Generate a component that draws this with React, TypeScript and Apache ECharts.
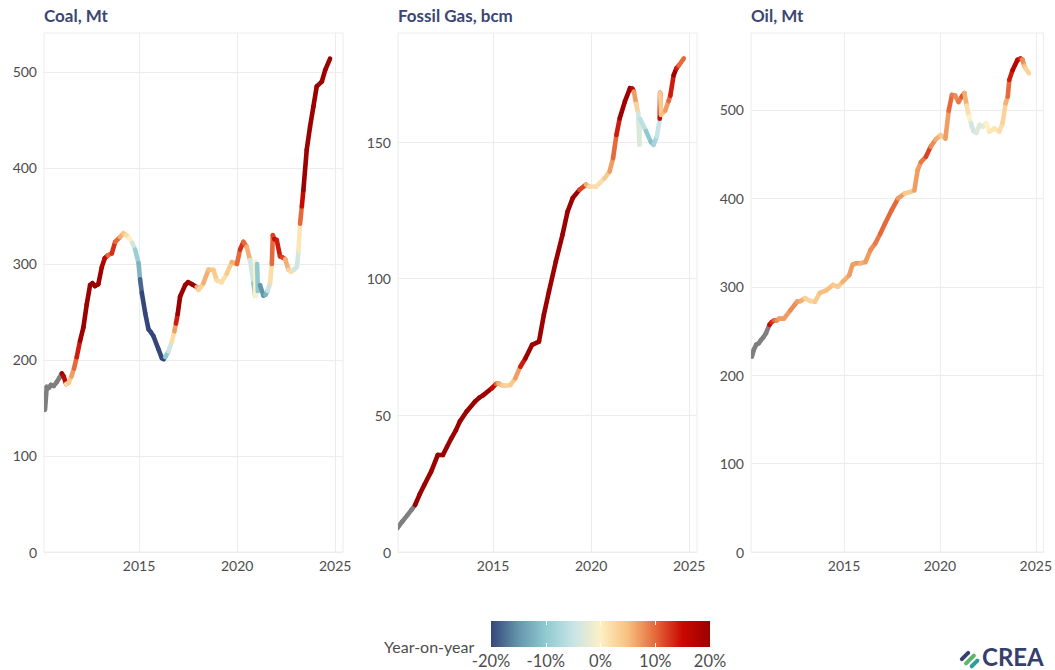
import React, { useEffect, useRef } from 'react';
import * as echarts from 'echarts';

type Pt = [number, number, number | null];

// [year, 12-month rolling value, year-on-year change (null = no prior year)]
const coalData: Pt[] = [
  [2010.2, 148, null], [2010.29, 172, null], [2010.4, 171, null], [2010.5, 174, null],
  [2010.65, 173, null], [2010.8, 177, null], [2010.95, 182, null], [2011.06, 186, null],
  [2011.15, 183, 0.2], [2011.28, 175, 0.16], [2011.4, 176, 0.02], [2011.55, 183, 0.04],
  [2011.68, 191, 0.07], [2011.82, 203, 0.1], [2011.99, 220, 0.14], [2012.16, 234, 0.22],
  [2012.33, 258, 0.25], [2012.5, 278, 0.25], [2012.62, 280, 0.25], [2012.75, 277, 0.25],
  [2012.92, 279, 0.22], [2013.1, 297, 0.2], [2013.25, 306, 0.18], [2013.4, 309, 0.16],
  [2013.61, 311, 0.1], [2013.78, 323, 0.13], [2014.03, 328, 0.1], [2014.2, 332, 0.06],
  [2014.35, 330, 0.04], [2014.5, 327, 0.02], [2014.65, 322, 0.0], [2014.8, 315, -0.04],
  [2014.97, 301, -0.09], [2015.05, 284, -0.12], [2015.14, 270, -0.18], [2015.31, 249, -0.25],
  [2015.48, 232, -0.25], [2015.6, 229, -0.25], [2015.73, 225, -0.25], [2015.99, 211, -0.25],
  [2016.16, 202, -0.25], [2016.25, 201, -0.25], [2016.33, 203, -0.22], [2016.5, 209, -0.1],
  [2016.67, 219, -0.04], [2016.8, 230, 0.02], [2016.88, 238, 0.07], [2016.97, 248, 0.14],
  [2017.09, 266, 0.22], [2017.35, 278, 0.25], [2017.5, 281, 0.25], [2017.69, 279, 0.25],
  [2017.94, 276, 0.22], [2018.03, 273, 0.06], [2018.15, 276, 0.03], [2018.28, 280, 0.03],
  [2018.54, 294, 0.06], [2018.79, 294, 0.05], [2018.96, 283, 0.04], [2019.22, 281, 0.02],
  [2019.47, 290, 0.02], [2019.73, 302, 0.04], [2019.99, 300, 0.06], [2020.15, 315, 0.1],
  [2020.32, 323, 0.13], [2020.49, 318, 0.1], [2020.66, 304, 0.06], [2020.83, 280, -0.04],
  [2020.92, 267, -0.1], [2020.95, 302, 0.0], [2021.02, 300, 0.0], [2021.06, 272, -0.1],
  [2021.17, 278, -0.1], [2021.34, 267, -0.15], [2021.45, 268, -0.15], [2021.55, 272, -0.12],
  [2021.68, 280, -0.05], [2021.77, 300, 0.02], [2021.82, 330, 0.1], [2021.9, 326, 0.12],
  [2022.02, 325, 0.15], [2022.19, 308, 0.14], [2022.3, 307, 0.13], [2022.45, 305, 0.12],
  [2022.62, 294, 0.06], [2022.75, 292, 0.03], [2022.9, 294, 0.02], [2023.05, 297, -0.04],
  [2023.13, 314, -0.04], [2023.21, 342, 0.01], [2023.3, 360, 0.1], [2023.38, 377, 0.15],
  [2023.55, 419, 0.22], [2023.72, 443, 0.25], [2023.89, 464, 0.25], [2024.06, 485, 0.25],
  [2024.32, 490, 0.25], [2024.49, 502, 0.25], [2024.74, 514, 0.25],
];

const gasData: Pt[] = [
  [2010.12, 8.7, null], [2010.35, 11, null], [2010.63, 13.5, null], [2010.85, 15.5, null],
  [2011.02, 17.2, null], [2011.25, 21, 0.3], [2011.49, 24.5, 0.3], [2011.84, 29.4, 0.3],
  [2012.18, 35.5, 0.3], [2012.44, 35.5, 0.3], [2012.65, 38.5, 0.3], [2012.87, 41.6, 0.3],
  [2013.1, 44.5, 0.3], [2013.3, 47.7, 0.3], [2013.64, 51.3, 0.3], [2014.07, 55.0, 0.25],
  [2014.3, 56.5, 0.22], [2014.5, 57.4, 0.2], [2014.93, 59.9, 0.2], [2015.15, 61.5, 0.15],
  [2015.27, 61.7, 0.1], [2015.45, 61.0, 0.06], [2015.62, 60.8, 0.04], [2015.88, 61.1, 0.03],
  [2016.13, 63.5, 0.04], [2016.39, 67.8, 0.07], [2016.65, 70.9, 0.14], [2016.99, 75.8, 0.2],
  [2017.34, 77.0, 0.22], [2017.59, 86.8, 0.25], [2017.85, 95.3, 0.25], [2018.2, 106.3, 0.3],
  [2018.54, 116.1, 0.3], [2018.8, 124.6, 0.3], [2019.06, 129.5, 0.25], [2019.4, 132.5, 0.2],
  [2019.74, 134.4, 0.12], [2019.91, 133.7, 0.06], [2020.26, 133.7, 0.02], [2020.69, 136.8, 0.02],
  [2020.94, 139.2, 0.04], [2021.12, 144.1, 0.07], [2021.29, 152.6, 0.1], [2021.46, 158.7, 0.14],
  [2021.72, 164.8, 0.2], [2021.98, 169.7, 0.22], [2022.1, 169.5, 0.2], [2022.18, 168.5, 0.16],
  [2022.3, 164, 0.07], [2022.4, 160.5, 0.03], [2022.46, 149, -0.04], [2022.49, 158.5, -0.03],
  [2022.8, 154, -0.06], [2023.05, 150, -0.1], [2023.18, 149, -0.11], [2023.35, 152, -0.08],
  [2023.5, 158.5, -0.05], [2023.52, 168, 0.15], [2023.56, 160, 0.04], [2023.78, 161.5, 0.05],
  [2023.95, 165, 0.07], [2024.04, 167, 0.1], [2024.21, 174.5, 0.14], [2024.35, 177, 0.2],
  [2024.47, 178, 0.14], [2024.73, 180.6, 0.1],
];

const oilData: Pt[] = [
  [2010.2, 221, null], [2010.3, 229, null], [2010.42, 234.5, null], [2010.55, 236, null],
  [2010.68, 240, null], [2010.8, 243, null], [2010.93, 247.5, null], [2011.11, 257, null],
  [2011.22, 260, 0.15], [2011.36, 262, 0.13], [2011.5, 262, 0.1], [2011.62, 264, 0.08],
  [2011.87, 264, 0.07], [2012.21, 273.5, 0.07], [2012.55, 283, 0.08], [2012.75, 284, 0.07],
  [2012.97, 287, 0.06], [2013.23, 284, 0.03], [2013.48, 283, 0.03], [2013.74, 293, 0.04],
  [2014.08, 296, 0.05], [2014.42, 302, 0.05], [2014.68, 300, 0.04], [2014.93, 305.5, 0.04],
  [2015.27, 313, 0.06], [2015.45, 325, 0.07], [2015.61, 326.5, 0.07], [2015.87, 326.5, 0.07],
  [2016.12, 328, 0.06], [2016.38, 341.5, 0.07], [2016.63, 349, 0.08], [2016.89, 360, 0.09],
  [2017.14, 371.5, 0.1], [2017.48, 386.5, 0.1], [2017.82, 400, 0.1], [2018.16, 405.5, 0.07],
  [2018.5, 407.5, 0.04], [2018.67, 409, 0.04], [2018.84, 432, 0.07], [2019.01, 441, 0.07],
  [2019.27, 447, 0.09], [2019.52, 458.5, 0.12], [2019.78, 466.5, 0.08], [2020.03, 471.5, 0.06],
  [2020.29, 467.6, 0.04], [2020.46, 499, 0.07], [2020.63, 517, 0.1], [2020.8, 516, 0.09],
  [2020.97, 509, 0.08], [2021.14, 515, 0.09], [2021.28, 519, 0.11], [2021.4, 505, 0.06],
  [2021.51, 493, 0.02], [2021.62, 485, 0.0], [2021.75, 476, -0.04], [2021.9, 474, -0.04],
  [2022.07, 483, -0.03], [2022.24, 481, -0.03], [2022.41, 485, -0.02], [2022.58, 475.5, 0.0],
  [2022.84, 479, 0.01], [2023.1, 475.5, 0.01], [2023.27, 485, 0.02], [2023.43, 507.5, 0.03],
  [2023.54, 515, 0.06], [2023.62, 534, 0.1], [2023.79, 545, 0.14], [2024.05, 556.6, 0.17],
  [2024.2, 558, 0.16], [2024.3, 557, 0.13], [2024.4, 550, 0.08], [2024.47, 547, 0.05],
  [2024.64, 541.5, 0.03],
];

const panelTitles = ['Coal, Mt', 'Fossil Gas, bcm', 'Oil, Mt'];
const panelData = [coalData, gasData, oilData];
const yMaxes = [540.6, 189.9, 587];
const yTickValues = [
  [0, 100, 200, 300, 400, 500],
  [0, 50, 100, 150],
  [0, 100, 200, 300, 400, 500],
];
const xTickValues = [2015, 2020, 2025];
const xRange = [2010.15, 2025.4];
const yoyColors = ['#35467a', '#6595ab', '#90cad1', '#c6e4e7', '#fdf0c4', '#f8c080', '#e5693a', '#c90802', '#9c0000'];
const yoyRange = [-0.2, 0.2];
const legendTicks = [-0.1, 0, 0.1];
const legendTitle = 'Year-on-year';
const logoText = 'CREA';

const FONT = 'Lato, "Noto Sans", sans-serif';
const GRID_LEFTS = [44, 398, 751];

function buildSegments(pts: Pt[], colored: boolean) {
  const out: number[][] = [];
  for (let i = 1; i < pts.length; i++) {
    const [x0, y0] = pts[i - 1];
    const [x1, y1, yoy] = pts[i];
    if (colored && yoy !== null) out.push([x0, y0, x1, y1, yoy]);
    if (!colored && yoy === null) out.push([x0, y0, x1, y1, 0]);
  }
  return out;
}

const segmentRender = (stroke?: string) => (params: any, api: any) => {
  const p0 = api.coord([api.value(0), api.value(1)]);
  const p1 = api.coord([api.value(2), api.value(3)]);
  return {
    type: 'line',
    shape: { x1: p0[0], y1: p0[1], x2: p1[0], y2: p1[1] },
    style: { stroke: stroke || api.visual('color'), lineWidth: 4.6, lineCap: 'round' },
  };
};

export default function App() {
  const ref = useRef<HTMLDivElement>(null);
  useEffect(() => {
    if (!ref.current) return;
    const chart = echarts.init(ref.current, undefined, { renderer: 'svg' });

    const grids: any[] = GRID_LEFTS.map((left) => ({
      left, top: 33, width: 299, height: 519, show: true, borderColor: '#ececec', borderWidth: 1,
      backgroundColor: 'transparent',
    }));
    grids.push({ left: 491, top: 621, width: 219, height: 26 });

    const xAxes: any[] = GRID_LEFTS.map((_, i) => ({
      type: 'value', gridIndex: i, min: xRange[0], max: xRange[1],
      axisLine: { show: false },
      axisTick: { show: false, customValues: xTickValues },
      axisLabel: { customValues: xTickValues, formatter: (v: number) => String(v), color: '#4d4d4d', fontSize: 14, fontFamily: FONT, margin: 6 },
      splitLine: { show: true, lineStyle: { color: '#ececec', width: 1 } },
    }));
    xAxes.push({
      type: 'value', gridIndex: 3, min: yoyRange[0], max: yoyRange[1], interval: 0.1, z: 10,
      axisLine: { show: false },
      axisTick: { show: true, inside: true, length: 4, customValues: legendTicks, lineStyle: { color: '#ffffff', width: 1 } },
      axisLabel: { formatter: (v: number) => Math.round(v * 100) + '%', color: '#4d4d4d', fontSize: 16.5, fontFamily: FONT, margin: 5 },
      splitLine: { show: false },
    });
    xAxes.push({
      type: 'value', gridIndex: 3, position: 'top', min: yoyRange[0], max: yoyRange[1], interval: 0.1, z: 10,
      axisLine: { show: false },
      axisTick: { show: true, inside: true, length: 4, customValues: legendTicks, lineStyle: { color: '#ffffff', width: 1 } },
      axisLabel: { show: false },
      splitLine: { show: false },
    });

    const yAxes: any[] = GRID_LEFTS.map((_, i) => ({
      type: 'value', gridIndex: i, min: 0, max: yMaxes[i],
      axisLine: { show: false },
      axisTick: { show: false, customValues: yTickValues[i] },
      axisLabel: { customValues: yTickValues[i], formatter: (v: number) => String(v), color: '#4d4d4d', fontSize: 14, fontFamily: FONT, margin: 7 },
      splitLine: { show: true, lineStyle: { color: '#ececec', width: 1 } },
    }));
    yAxes.push({ type: 'value', gridIndex: 3, min: 0, max: 1, show: false });

    const series: any[] = [];
    const coloredIdx: number[] = [];
    panelData.forEach((pts, i) => {
      series.push({
        type: 'custom', xAxisIndex: i, yAxisIndex: i, clip: true,
        data: buildSegments(pts, false),
        encode: { x: [0, 2], y: [1, 3] },
        renderItem: segmentRender('#7f7f7f'),
        silent: true,
      });
      coloredIdx.push(series.length);
      series.push({
        type: 'custom', xAxisIndex: i, yAxisIndex: i, clip: true,
        dimensions: ['x0', 'y0', 'x1', 'y1', 'yoy'],
        data: buildSegments(pts, true),
        encode: { x: [0, 2], y: [1, 3] },
        renderItem: segmentRender(),
        silent: true,
      });
    });

    const stops = yoyColors.map((c, i) => ({ offset: i / (yoyColors.length - 1), color: c }));
    series.push({
      type: 'custom', xAxisIndex: 3, yAxisIndex: 3, silent: true,
      data: [[yoyRange[0], yoyRange[1]]],
      encode: { x: [0, 1] },
      renderItem: (params: any, api: any) => {
        const a = api.coord([api.value(0), 0]);
        const b = api.coord([api.value(1), 1]);
        return {
          type: 'rect',
          shape: { x: a[0], y: b[1], width: b[0] - a[0], height: a[1] - b[1] },
          style: { fill: new echarts.graphic.LinearGradient(0, 0, 1, 0, stops) },
        };
      },
    });

    const titles: any[] = panelTitles.map((t, i) => ({
      text: t, left: GRID_LEFTS[i] - 5, top: 2,
      textStyle: { fontSize: 17, fontWeight: 'bold', color: '#3b4672', fontFamily: FONT },
    }));
    titles.push({
      text: legendTitle, left: 379, top: 633,
      textStyle: { fontSize: 16, fontWeight: 'normal', color: '#4d4d4d', fontFamily: FONT },
    });

    chart.setOption({
      animation: false,
      backgroundColor: '#ffffff',
      title: titles,
      grid: grids,
      xAxis: xAxes,
      yAxis: yAxes,
      visualMap: [{
        type: 'continuous', show: false, min: yoyRange[0], max: yoyRange[1],
        dimension: 4, seriesIndex: coloredIdx, inRange: { color: yoyColors },
      }],
      series,
      graphic: [
        {
          type: 'group', left: 959, top: 650,
          children: [
            { type: 'rect', x: 0, y: 0, rotation: Math.PI / 4, originX: 0, originY: 0, shape: { x: 4, y: -4, width: 13, height: 4, r: 2 }, style: { fill: '#35406e' } },
            { type: 'rect', x: 0, y: 0, rotation: Math.PI / 4, originX: 0, originY: 0, shape: { x: 4, y: 2, width: 15, height: 4, r: 2 }, style: { fill: '#5fb46a' } },
            { type: 'rect', x: 0, y: 0, rotation: Math.PI / 4, originX: 0, originY: 0, shape: { x: 6, y: 8, width: 12, height: 4, r: 2 }, style: { fill: '#2e9e9a' } },
          ],
        },
        {
          type: 'text', left: 982, top: 644,
          style: { text: logoText, fill: '#35406e', font: 'bold 24px ' + FONT },
        },
      ],
    });
    return () => chart.dispose();
  }, []);
  return <div ref={ref} style={{ position: 'absolute', left: 0, top: 0, width: 1055, height: 670 }} />;
}
